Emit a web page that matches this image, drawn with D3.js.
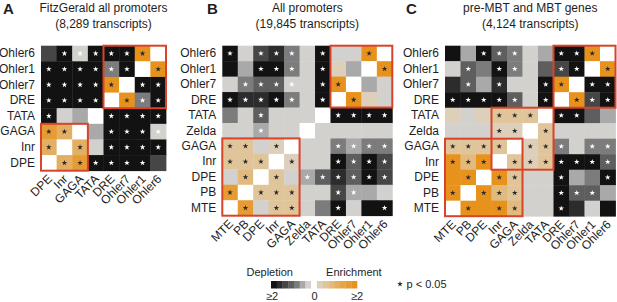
<!DOCTYPE html>
<html>
<head>
<meta charset="utf-8">
<script src="https://cdn.jsdelivr.net/npm/d3@7"></script>
<style>
    body { margin: 0; background: #fff; }
    svg { display: block; }
    text { font-family: "Liberation Sans Narrow", "Liberation Sans", Arial, sans-serif; fill: #1e1e1e; }
</style>
</head>
<body>
<div id="canvas"></div>
<script>
"use strict";

/* Data: motif co-occurrence, log2 enrichment (clipped to +-2), rows listed top to bottom */

let catsA = ["DPE", "Inr", "GAGA", "TATA", "DRE", "Ohler7", "Ohler1", "Ohler6"];
let catsBC = ["MTE", "PB", "DPE", "Inr", "GAGA", "Zelda", "TATA", "DRE", "Ohler7", "Ohler1", "Ohler6"];

let titleA = ["FitzGerald all promoters", "(8,289 transcripts)"];
let titleB = ["All promoters", "(19,845 transcripts)"];
let titleC = ["pre-MBT and MBT genes", "(4,124 transcripts)"];

// Panel A rows: Ohler6, Ohler1, Ohler7, DRE, TATA, GAGA, Inr, DPE
let valuesA = [
    [-1.3, -2, -0.3, -2, -2, -2, 2, 0],
    [-2, -2, -2, -2, -0.8, -2, 0, 2],
    [-2, -2, -2, -2, 2, 0, -2, -2],
    [-2, -2, -2, -2, 0, 2, -0.8, -2],
    [-2, -0.3, -0.55, 0, -2, -2, -2, -2],
    [1.5, 1.05, 0, -0.55, -2, -2, -2, -0.3],
    [1.1, 0, 1.05, -0.3, -2, -2, -2, -2],
    [0, 1.1, 1.5, -2, -2, -2, -2, -1.3]
];
let starsA = [
    [0, 1, 1, 1, 1, 1, 1, 0],
    [1, 1, 1, 1, 1, 1, 0, 1],
    [1, 1, 1, 1, 1, 0, 1, 1],
    [1, 1, 1, 1, 0, 1, 1, 1],
    [1, 0, 0, 0, 1, 1, 1, 1],
    [1, 1, 0, 0, 1, 1, 1, 1],
    [1, 0, 1, 0, 1, 1, 1, 1],
    [0, 1, 1, 1, 1, 1, 1, 0]
];

// Panel B rows: Ohler6, Ohler1, Ohler7, DRE, TATA, Zelda, GAGA, Inr, DPE, PB, MTE
let valuesB = [
    [-2, -0.25, -1.3, -1.6, -0.8, -0.25, -2, -0.25, -0.25, 2, 0],
    [-2, -0.55, -2, -2, -0.8, -0.25, -2, 0.25, -0.55, 0, 2],
    [-0.25, -0.8, -1.05, -1.05, -0.3, -0.25, -2, 2, 0, -0.55, -0.25],
    [-2, -1.5, -1.6, -2, -0.8, -0.25, -2, 0, 2, 0.25, -0.25],
    [-0.8, -0.25, -1.05, -0.25, -0.25, -0.25, 0, -2, -2, -2, -2],
    [-0.25, -0.25, -0.55, -0.25, -0.25, 0, -0.25, -0.25, -0.25, -0.25, -0.25],
    [0.6, 0.6, -0.25, 0.35, 0, -0.25, -0.25, -0.8, -0.42, -0.8, -0.8],
    [0.6, 0.6, 0.6, 0, 0.35, -0.25, -0.25, -2, -1.05, -2, -1.3],
    [-0.25, 0.75, 0, 0.6, -0.25, -0.55, -1.05, -1.6, -1.05, -2, -1.3],
    [1.6, 0, 0.6, 0.6, 0.45, -0.25, -0.25, -1.3, -0.55, -0.42, -0.25],
    [0, 1.6, -0.25, 0.6, 0.6, -0.25, -0.8, -2, -0.25, -2, -2]
];
let starsB = [
    [1, 0, 1, 1, 1, 0, 1, 0, 0, 1, 0],
    [0, 0, 1, 1, 1, 0, 1, 0, 0, 0, 1],
    [0, 1, 1, 1, 1, 0, 1, 1, 0, 0, 0],
    [1, 1, 1, 1, 1, 0, 1, 0, 1, 0, 0],
    [0, 0, 1, 0, 0, 0, 0, 1, 1, 1, 1],
    [0, 0, 1, 0, 0, 0, 0, 0, 0, 0, 0],
    [1, 1, 0, 1, 0, 0, 0, 1, 1, 1, 1],
    [1, 1, 1, 0, 1, 0, 0, 1, 1, 1, 1],
    [0, 1, 0, 1, 0, 1, 1, 1, 1, 1, 1],
    [1, 0, 1, 1, 1, 0, 0, 1, 1, 0, 0],
    [0, 1, 0, 1, 1, 0, 0, 1, 0, 0, 1]
];

// Panel C rows: Ohler6, Ohler1, Ohler7, DRE, TATA, Zelda, GAGA, Inr, DPE, PB, MTE
let valuesC = [
    [-2, -0.55, -2, -1.05, -0.8, -0.25, -0.55, -2, -2, 2, 0],
    [-0.25, -1.05, -0.8, -2, -0.8, -0.25, -1.05, -1.3, -2, 0, 2],
    [-1.6, -1.05, -0.55, -1.6, -0.25, -0.25, -2, 2, 0, -2, -2],
    [-2, -2, -2, -2, -1.05, -0.25, -2, 0, 2, -1.3, -2],
    [0.25, -0.25, 0.25, 0.55, 0.55, 0.4, 0, -2, -2, -1.05, -0.55],
    [-0.25, -0.25, -0.25, 0.25, 0.25, 0, 0.5, -0.25, -0.25, -0.25, -0.25],
    [0.55, 0.55, 0.55, 0.55, 0, 0.25, 0.55, -0.8, -0.25, -0.8, -0.8],
    [1.8, 0.75, 1.8, 0, 0.55, 0.25, 0.45, -2, -2, -2, -1.05],
    [2, 2, 0, 1.8, 0.55, -0.25, -0.25, -2, -0.55, -0.8, -2],
    [2, 0, 2, 0.75, 0.55, -0.25, -0.25, -2, -1.05, -1.05, -0.55],
    [0, 2, 2, 1.8, 0.7, -0.25, -0.25, -2, -1.6, -0.25, -2]
];
let starsC = [
    [0, 0, 1, 1, 1, 0, 0, 1, 1, 1, 0],
    [0, 1, 0, 1, 1, 0, 0, 1, 1, 0, 1],
    [0, 1, 0, 1, 0, 0, 1, 1, 0, 1, 1],
    [1, 1, 1, 1, 1, 0, 1, 0, 1, 1, 1],
    [0, 0, 0, 1, 1, 1, 0, 1, 1, 0, 0],
    [0, 0, 0, 1, 1, 0, 1, 0, 0, 0, 0],
    [1, 1, 1, 1, 0, 1, 1, 1, 0, 1, 1],
    [1, 1, 1, 0, 1, 1, 1, 1, 1, 1, 1],
    [0, 1, 0, 1, 1, 0, 0, 1, 0, 0, 1],
    [1, 0, 1, 1, 1, 0, 0, 1, 1, 1, 0],
    [0, 1, 0, 1, 1, 0, 0, 1, 0, 0, 0]
];

// Red boxes: [first category, last category]
let boxesA = [["DPE", "GAGA"], ["DRE", "Ohler6"]];
let boxesB = [["MTE", "GAGA"], ["DRE", "Ohler6"]];
let boxesC = [["MTE", "GAGA"], ["Inr", "TATA"], ["DRE", "Ohler6"]];

let legendTicks = ["\u22652", "0", "\u22652"];

/* Layout */
let svgWidth = 617;
let svgHeight = 302;
let gridTop = 45.7;
let boxRed = "#d8432a";

let svg = d3.select("#canvas")
    .append("svg")
    .attr("width", svgWidth)
    .attr("height", svgHeight);

// 15 binned colours, black -> white -> orange
let palette = ["#121212", "#2c2c2c", "#464646", "#5e5e5e", "#7c7c7c", "#a9a9a9", "#d3d1ce",
               "#ffffff",
               "#ddcfba", "#e1c59a", "#e3ba7e", "#e4af63", "#e6a54b", "#e79b33", "#e8921e"];
let color = d3.scaleQuantize().domain([-2, 2]).range(palette);

let star = d3.symbol().type(d3.symbolStar).size(10);

drawPanel("A", catsA, valuesA, starsA, boxesA, titleA, 41, 125, 3);
drawPanel("B", catsBC, valuesB, starsB, boxesB, titleB, 222.3, 170, 207);
drawPanel("C", catsBC, valuesC, starsC, boxesC, titleC, 445, 170.5, 406);
drawLegend();

function drawPanel(letter, cats, values, stars, boxes, title, left, size, letterX) {
    let n = cats.length;
    let x = d3.scaleBand().domain(cats).range([left, left + size]);
    let y = d3.scaleBand().domain(cats.slice().reverse()).range([gridTop, gridTop + size]);
    let bw = x.bandwidth();

    let cells = [];
    for (let r = 0; r < n; r++) {
        for (let c = 0; c < n; c++) {
            cells.push({ row: cats[n - 1 - r], col: cats[c], v: values[r][c], s: stars[r][c] });
        }
    }

    let g = svg.append("g");

    g.selectAll("rect.cell")
        .data(cells)
        .join("rect")
        .attr("class", "cell")
        .attr("x", d => x(d.col))
        .attr("y", d => y(d.row))
        .attr("width", bw + 0.4)
        .attr("height", bw + 0.4)
        .attr("fill", d => color(d.v));

    g.selectAll("path.star")
        .data(cells.filter(d => d.s))
        .join("path")
        .attr("class", "star")
        .attr("d", star)
        .attr("transform", d => "translate(" + (x(d.col) + bw / 2) + "," + (y(d.row) + bw / 2) + ")")
        .attr("fill", d => d.v < 0 ? "#ffffff" : "#2a2a2a");

    // red group boxes
    g.selectAll("rect.box")
        .data(boxes)
        .join("rect")
        .attr("class", "box")
        .attr("x", d => x(d[0]))
        .attr("y", d => y(d[1]))
        .attr("width", d => x(d[1]) + bw - x(d[0]))
        .attr("height", d => y(d[0]) + bw - y(d[1]))
        .attr("fill", "none")
        .attr("stroke", boxRed)
        .attr("stroke-width", 2);

    // row labels
    let yAxis = svg.append("g")
        .attr("transform", "translate(" + left + ",0)")
        .call(d3.axisLeft(y).tickSize(0).tickPadding(6));
    yAxis.select(".domain").remove();
    yAxis.attr("font-family", null).attr("font-size", 12);
    yAxis.selectAll("text").attr("fill", "#1e1e1e");

    // column labels
    let xAxis = svg.append("g")
        .attr("transform", "translate(0," + (gridTop + size) + ")")
        .call(d3.axisBottom(x).tickSize(0));
    xAxis.select(".domain").remove();
    xAxis.attr("font-family", null).attr("font-size", 12);
    xAxis.selectAll("text")
        .attr("y", 0)
        .attr("dy", 0)
        .attr("fill", "#1e1e1e")
        .attr("text-anchor", "end")
        .attr("transform", "translate(4,9) rotate(-45)");

    // titles
    svg.append("text")
        .attr("x", letterX)
        .attr("y", 14)
        .style("font-family", "'Liberation Sans', Arial, sans-serif")
        .style("font-weight", "bold")
        .style("font-size", "15px")
        .text(letter);

    svg.selectAll(null)
        .data(title)
        .join("text")
        .attr("x", left + size / 2)
        .attr("y", (d, i) => 12 + i * 16)
        .attr("text-anchor", "middle")
        .style("font-family", "'Liberation Sans', Arial, sans-serif")
        .style("font-size", "12px")
        .text(d => d);
}

function drawLegend() {
    let barLeft = 271;
    let barWidth = 86;
    let barTop = 281;
    let barHeight = 7.5;

    let bx = d3.scaleBand().domain(d3.range(palette.length)).range([barLeft, barLeft + barWidth]);

    svg.selectAll("rect.bar")
        .data(palette)
        .join("rect")
        .attr("class", "bar")
        .attr("x", (d, i) => bx(i))
        .attr("y", barTop)
        .attr("width", bx.bandwidth() + 0.3)
        .attr("height", barHeight)
        .attr("fill", d => d);

    let lf = "'Liberation Sans', Arial, sans-serif";

    svg.append("text")
        .attr("x", 246.5)
        .attr("y", 276)
        .style("font-family", lf)
        .style("font-size", "11px")
        .text("Depletion");

    svg.append("text")
        .attr("x", 381.7)
        .attr("y", 276)
        .attr("text-anchor", "end")
        .style("font-family", lf)
        .style("font-size", "11px")
        .text("Enrichment");

    let tickX = d3.scalePoint().domain([0, 1, 2]).range([272, 357]);
    svg.selectAll("text.lt")
        .data(legendTicks)
        .join("text")
        .attr("class", "lt")
        .attr("x", (d, i) => tickX(i))
        .attr("y", 299.5)
        .attr("text-anchor", "middle")
        .style("font-family", lf)
        .style("font-size", "11px")
        .text(d => d);

    svg.append("path")
        .attr("d", star)
        .attr("transform", "translate(400,284)")
        .attr("fill", "#2a2a2a");

    svg.append("text")
        .attr("x", 406.5)
        .attr("y", 288)
        .style("font-family", lf)
        .style("font-size", "11px")
        .text("p < 0.05");
}
</script>
</body>
</html>
